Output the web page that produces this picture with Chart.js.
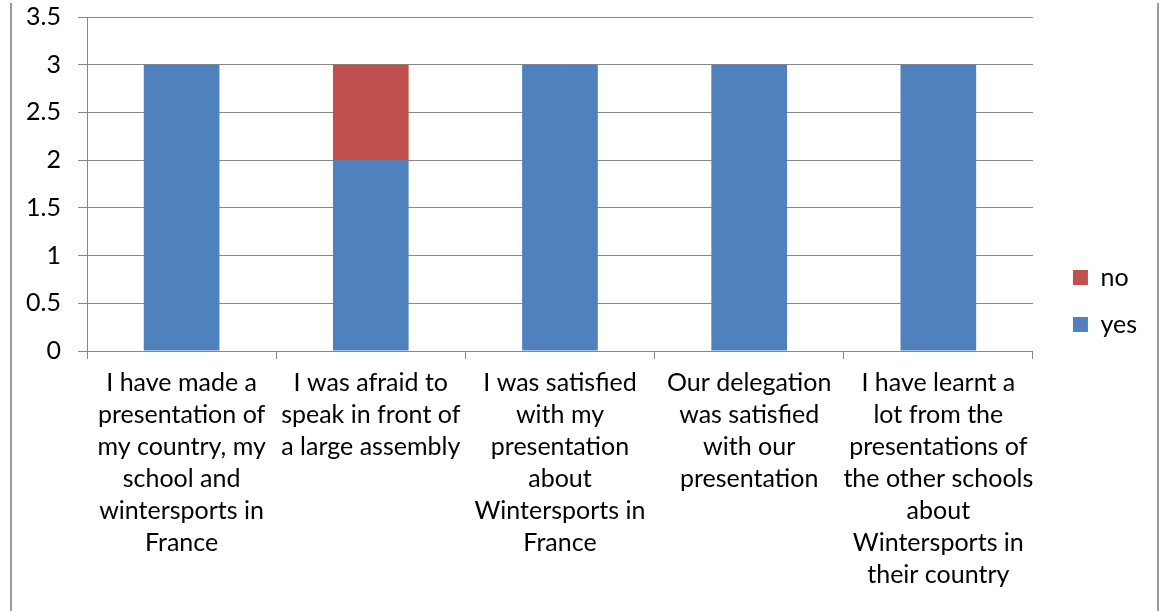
<!DOCTYPE html>
<html>
<head>
<meta charset="utf-8">
<script src="https://cdn.jsdelivr.net/npm/chart.js@4/dist/chart.umd.min.js"></script>
<style>
  html, body { margin: 0; padding: 0; background: #fff; overflow: hidden; }
  #wrap { position: relative; width: 1162px; height: 611px; }
  #frame { position: absolute; left: 10px; top: 3px; width: 1145px; height: 700px;
           border-left: 2px solid #9a9a9a; border-right: 2px solid #9a9a9a; pointer-events: none; }
  canvas { position: absolute; left: 0; top: 0; }
</style>
</head>
<body>
<div id="wrap">
  <canvas id="c" width="1162" height="611"></canvas>
  <div id="frame"></div>
</div>
<script>
const categories = [
  ["I have made a", "presentation of", "my country, my", "school and", "wintersports in", "France"],
  ["I was afraid to", "speak in front of", "a large assembly"],
  ["I was satisfied", "with my", "presentation", "about", "Wintersports in", "France"],
  ["Our delegation", "was satisfied", "with our", "presentation"],
  ["I have learnt a", "lot from the", "presentations of", "the other schools", "about", "Wintersports in", "their country"]
];
const yesValues = [3, 2, 3, 3, 3];
const noValues = [0, 1, 0, 0, 0];
const yMin = 0, yMax = 3.5, yStep = 0.5;

const FONT = "Lato, 'Open Sans', sans-serif";
const GRID = '#878787';

const legendShift = {
  id: 'legendShift',
  afterLayout(chart) {
    const lg = chart.legend;
    if (!lg) return;
    const dx = 18, dy = -13;
    lg.left += dx; lg.right += dx;
    lg.top += dy; lg.bottom += dy;
  }
};

new Chart(document.getElementById('c'), {
  type: 'bar',
  data: {
    labels: categories,
    datasets: [
      { label: 'yes', data: yesValues, backgroundColor: '#4F81BD', stack: 's' },
      { label: 'no', data: noValues, backgroundColor: '#C0504D', stack: 's' }
    ]
  },
  options: {
    responsive: false,
    animation: false,
    devicePixelRatio: 1,
    layout: { padding: { top: 17, right: 33, bottom: 0, left: 0 } },
    datasets: { bar: { categoryPercentage: 1.0, barPercentage: 0.40 } },
    plugins: {
      tooltip: { enabled: false },
      legend: {
        position: 'right',
        reverse: true,
        labels: {
          boxWidth: 15, boxHeight: 15, padding: 22,
          color: '#000',
          font: { family: FONT, size: 25 }
        }
      }
    },
    scales: {
      x: {
        stacked: true,
        grid: { display: true, drawOnChartArea: false, drawTicks: true, tickLength: 8, offset: true, color: GRID },
        border: { display: true, color: GRID, width: 1 },
        ticks: {
          color: '#000', padding: 8, maxRotation: 0, autoSkip: false,
          font: { family: FONT, size: 25, lineHeight: 32 / 25 }
        },
        afterFit(s) { s.height = 260; }
      },
      y: {
        stacked: true,
        min: yMin, max: yMax,
        grid: { display: true, drawTicks: true, tickLength: 9, color: GRID },
        border: { display: true, color: GRID, width: 1 },
        ticks: {
          stepSize: yStep, color: '#000', padding: 17,
          font: { family: FONT, size: 25 },
          callback: (v) => String(Math.round(v * 10) / 10)
        },
        afterFit(s) { s.width = 87; s.paddingTop = 0; s.paddingBottom = 0; }
      }
    }
  },
  plugins: [legendShift]
});
</script>
</body>
</html>
